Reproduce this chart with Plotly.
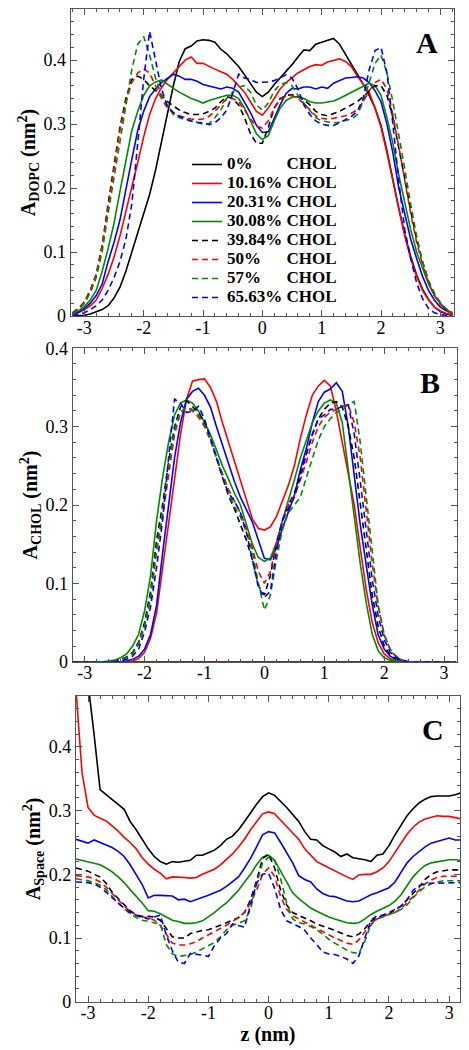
import plotly.graph_objects as go

# ---------------- data ----------------
z = [-3.2, -3.1, -3.0, -2.9, -2.8, -2.7, -2.6, -2.5, -2.4, -2.3, -2.2, -2.1, -2.0, -1.9, -1.8, -1.7,
     -1.6, -1.5, -1.4, -1.3, -1.2, -1.1, -1.0, -0.9, -0.8, -0.7, -0.6, -0.5, -0.4, -0.3, -0.2, -0.1,
     0.0, 0.1, 0.2, 0.3, 0.4, 0.5, 0.6, 0.7, 0.8, 0.9, 1.0, 1.1, 1.2, 1.3, 1.4, 1.5, 1.6,
     1.7, 1.8, 1.9, 2.0, 2.1, 2.2, 2.3, 2.4, 2.5, 2.6, 2.7, 2.8, 2.9, 3.0, 3.1, 3.2]

chol_pct = ["0", "10.16", "20.31", "30.08", "39.84", "50", "57", "65.63"]

x_tick_vals = [-3, -2, -1, 0, 1, 2, 3]
x_tick_text = ["-3", "-2", "-1", "0", "1", "2", "3"]

# Panel A: area per DOPC
dopc_0 = [0, 0, 0.001, 0.003, 0.006, 0.01, 0.016, 0.028, 0.045, 0.07, 0.1, 0.13, 0.162, 0.19, 0.228, 0.272,
          0.318, 0.36, 0.398, 0.418, 0.422, 0.43, 0.432, 0.431, 0.428, 0.417, 0.41, 0.40, 0.39, 0.377, 0.363, 0.35,
          0.343, 0.35, 0.362, 0.372, 0.383, 0.393, 0.405, 0.416, 0.415, 0.425, 0.428, 0.431, 0.434, 0.425, 0.41, 0.395,
          0.378, 0.362, 0.345, 0.325, 0.298, 0.258, 0.212, 0.168, 0.128, 0.093, 0.064, 0.042, 0.026, 0.014, 0.007,
          0.003, 0.001]
dopc_10 = [0.002, 0.005, 0.01, 0.016, 0.025, 0.043, 0.065, 0.092, 0.125, 0.162, 0.2, 0.24, 0.28, 0.315, 0.34, 0.357,
           0.37, 0.38, 0.39, 0.4, 0.405, 0.395, 0.395, 0.39, 0.386, 0.382, 0.378, 0.37, 0.36, 0.35, 0.335, 0.32,
           0.314, 0.325, 0.34, 0.355, 0.365, 0.372, 0.38, 0.385, 0.39, 0.393, 0.392, 0.397, 0.4, 0.402, 0.398, 0.39,
           0.375, 0.362, 0.35, 0.325, 0.295, 0.255, 0.21, 0.165, 0.125, 0.09, 0.062, 0.04, 0.025, 0.014, 0.008,
           0.004, 0.002]
dopc_20 = [0.003, 0.006, 0.012, 0.02, 0.032, 0.05, 0.085, 0.115, 0.15, 0.2, 0.245, 0.29, 0.32, 0.343, 0.355, 0.365,
           0.372, 0.378, 0.375, 0.37, 0.37, 0.367, 0.362, 0.36, 0.357, 0.355, 0.358, 0.356, 0.35, 0.335, 0.318, 0.298,
           0.287, 0.288, 0.31, 0.33, 0.348, 0.356, 0.355, 0.358, 0.358, 0.355, 0.358, 0.356, 0.364, 0.368, 0.372, 0.373,
           0.374, 0.372, 0.365, 0.352, 0.335, 0.3, 0.255, 0.2, 0.16, 0.12, 0.09, 0.062, 0.04, 0.025, 0.014,
           0.008, 0.004]
dopc_30 = [0.004, 0.008, 0.015, 0.025, 0.04, 0.07, 0.105, 0.145, 0.195, 0.245, 0.29, 0.32, 0.345, 0.36, 0.366, 0.369,
           0.362, 0.356, 0.35, 0.345, 0.34, 0.337, 0.333, 0.337, 0.34, 0.342, 0.345, 0.345, 0.34, 0.325, 0.305, 0.285,
           0.276, 0.282, 0.305, 0.325, 0.337, 0.342, 0.343, 0.34, 0.335, 0.333, 0.333, 0.335, 0.336, 0.34, 0.345, 0.35,
           0.355, 0.36, 0.364, 0.36, 0.345, 0.31, 0.27, 0.22, 0.175, 0.135, 0.1, 0.075, 0.05, 0.032, 0.02,
           0.01, 0.005]
dopc_40 = [0.005, 0.012, 0.022, 0.04, 0.065, 0.11, 0.175, 0.235, 0.295, 0.34, 0.37, 0.375, 0.37, 0.36, 0.352, 0.345,
           0.335, 0.328, 0.322, 0.318, 0.315, 0.315, 0.316, 0.32, 0.325, 0.335, 0.343, 0.34, 0.33, 0.31, 0.285, 0.27,
           0.27, 0.295, 0.325, 0.34, 0.345, 0.346, 0.343, 0.338, 0.33, 0.32, 0.315, 0.313, 0.316, 0.32, 0.325, 0.33,
           0.335, 0.343, 0.352, 0.36, 0.36, 0.345, 0.31, 0.265, 0.215, 0.165, 0.12, 0.085, 0.055, 0.035, 0.02,
           0.01, 0.005]
dopc_50 = [0.005, 0.011, 0.022, 0.04, 0.065, 0.11, 0.17, 0.23, 0.29, 0.335, 0.365, 0.38, 0.386, 0.38, 0.36, 0.34,
           0.325, 0.318, 0.313, 0.31, 0.308, 0.307, 0.308, 0.312, 0.32, 0.33, 0.34, 0.34, 0.335, 0.322, 0.308, 0.297,
           0.294, 0.305, 0.325, 0.338, 0.344, 0.345, 0.34, 0.332, 0.322, 0.313, 0.309, 0.308, 0.309, 0.311, 0.313, 0.317,
           0.322, 0.335, 0.352, 0.365, 0.37, 0.355, 0.315, 0.265, 0.21, 0.16, 0.115, 0.08, 0.052, 0.032, 0.018,
           0.009, 0.004]
dopc_57 = [0.004, 0.01, 0.02, 0.036, 0.06, 0.1, 0.16, 0.215, 0.275, 0.33, 0.385, 0.425, 0.437, 0.408, 0.372, 0.345,
           0.328, 0.315, 0.31, 0.307, 0.305, 0.302, 0.3, 0.301, 0.31, 0.322, 0.34, 0.35, 0.358, 0.36, 0.35, 0.33,
           0.322, 0.333, 0.352, 0.362, 0.365, 0.36, 0.345, 0.333, 0.322, 0.31, 0.305, 0.303, 0.302, 0.303, 0.305, 0.308,
           0.315, 0.335, 0.365, 0.395, 0.408, 0.38, 0.335, 0.285, 0.23, 0.175, 0.125, 0.085, 0.055, 0.035, 0.02,
           0.011, 0.005]
dopc_66 = [0.0, 0.002, 0.005, 0.01, 0.016, 0.025, 0.04, 0.06, 0.085, 0.12, 0.175, 0.27, 0.37, 0.445, 0.4, 0.355,
           0.328, 0.318, 0.312, 0.308, 0.305, 0.303, 0.302, 0.299, 0.302, 0.31, 0.322, 0.348, 0.378, 0.372, 0.37, 0.365,
           0.365, 0.366, 0.368, 0.372, 0.377, 0.372, 0.355, 0.33, 0.315, 0.305, 0.3, 0.298, 0.298, 0.302, 0.307, 0.312,
           0.32, 0.34, 0.385, 0.415, 0.42, 0.38, 0.3, 0.21, 0.135, 0.09, 0.052, 0.027, 0.012, 0.005, 0.002,
           0.001, 0.0]

# Panel B: area per cholesterol
chol_0 = [0.0] * 65
chol_10 = [0, 0, 0, 0, 0, 0, 0, 0, 0, 0, 0.001, 0.004, 0.012, 0.03, 0.062, 0.12,
           0.18, 0.235, 0.29, 0.335, 0.358, 0.36, 0.361, 0.35, 0.332, 0.305, 0.28, 0.255, 0.23, 0.205, 0.182, 0.17,
           0.168, 0.172, 0.185, 0.205, 0.225, 0.25, 0.285, 0.315, 0.34, 0.352, 0.359, 0.352, 0.32, 0.28, 0.24, 0.2,
           0.145, 0.092, 0.05, 0.024, 0.01, 0.004, 0.001, 0, 0, 0, 0, 0, 0, 0, 0,
           0, 0]
chol_20 = [0, 0, 0, 0, 0, 0, 0, 0, 0, 0.001, 0.003, 0.007, 0.016, 0.035, 0.072, 0.138,
           0.2, 0.26, 0.305, 0.335, 0.345, 0.349, 0.34, 0.325, 0.3, 0.276, 0.252, 0.23, 0.21, 0.195, 0.178, 0.155,
           0.132, 0.13, 0.145, 0.17, 0.19, 0.212, 0.245, 0.272, 0.305, 0.332, 0.344, 0.348, 0.356, 0.345, 0.3, 0.238,
           0.175, 0.123, 0.073, 0.034, 0.016, 0.007, 0.003, 0.001, 0, 0, 0, 0, 0, 0, 0,
           0, 0]
chol_30 = [0, 0, 0, 0, 0, 0, 0.001, 0.002, 0.005, 0.01, 0.02, 0.035, 0.065, 0.11, 0.18, 0.235,
           0.28, 0.315, 0.33, 0.334, 0.33, 0.32, 0.305, 0.29, 0.27, 0.25, 0.233, 0.215, 0.2, 0.175, 0.15, 0.133,
           0.128, 0.132, 0.152, 0.18, 0.205, 0.232, 0.26, 0.283, 0.305, 0.32, 0.33, 0.334, 0.33, 0.305, 0.245, 0.185,
           0.125, 0.075, 0.035, 0.014, 0.005, 0.002, 0.001, 0, 0, 0, 0, 0, 0, 0, 0,
           0, 0]
chol_40 = [0, 0, 0, 0, 0, 0, 0, 0.001, 0.003, 0.006, 0.012, 0.025, 0.05, 0.09, 0.155, 0.2,
           0.255, 0.3, 0.325, 0.333, 0.325, 0.318, 0.305, 0.285, 0.26, 0.235, 0.212, 0.195, 0.175, 0.155, 0.13, 0.097,
           0.085, 0.11, 0.15, 0.18, 0.2, 0.215, 0.24, 0.265, 0.29, 0.31, 0.322, 0.33, 0.332, 0.325, 0.3, 0.26,
           0.2, 0.14, 0.085, 0.045, 0.02, 0.008, 0.003, 0.001, 0, 0, 0, 0, 0, 0, 0,
           0, 0]
chol_50 = [0, 0, 0, 0, 0, 0, 0, 0.001, 0.002, 0.005, 0.01, 0.022, 0.045, 0.08, 0.14, 0.185,
           0.24, 0.29, 0.318, 0.325, 0.32, 0.312, 0.3, 0.282, 0.26, 0.24, 0.22, 0.205, 0.19, 0.17, 0.145, 0.115,
           0.1, 0.115, 0.15, 0.18, 0.2, 0.212, 0.232, 0.255, 0.28, 0.3, 0.312, 0.318, 0.322, 0.326, 0.328, 0.305,
           0.26, 0.195, 0.125, 0.07, 0.034, 0.015, 0.006, 0.002, 0, 0, 0, 0, 0, 0, 0,
           0, 0]
chol_57 = [0, 0, 0, 0, 0, 0, 0, 0.001, 0.002, 0.005, 0.011, 0.023, 0.046, 0.082, 0.145, 0.19,
           0.25, 0.295, 0.318, 0.325, 0.322, 0.315, 0.302, 0.285, 0.262, 0.24, 0.215, 0.198, 0.185, 0.165, 0.14, 0.1,
           0.066, 0.085, 0.13, 0.168, 0.19, 0.2, 0.21, 0.235, 0.26, 0.283, 0.3, 0.31, 0.318, 0.322, 0.328, 0.332,
           0.28, 0.21, 0.135, 0.072, 0.035, 0.016, 0.007, 0.002, 0, 0, 0, 0, 0, 0, 0,
           0, 0]
chol_66 = [0, 0, 0, 0, 0, 0, 0, 0, 0.001, 0.003, 0.007, 0.016, 0.038, 0.07, 0.12, 0.18,
           0.26, 0.335, 0.33, 0.318, 0.32, 0.326, 0.31, 0.285, 0.258, 0.235, 0.215, 0.205, 0.19, 0.165, 0.13, 0.095,
           0.082, 0.09, 0.14, 0.18, 0.195, 0.21, 0.235, 0.265, 0.29, 0.31, 0.315, 0.322, 0.322, 0.326, 0.328, 0.29,
           0.23, 0.165, 0.105, 0.058, 0.028, 0.012, 0.005, 0.002, 0, 0, 0, 0, 0, 0, 0,
           0, 0]

# Panel C: free space area
space_0 = [0.7, 0.6, 0.5, 0.42, 0.333, 0.325, 0.318, 0.31, 0.302, 0.283, 0.27, 0.255, 0.24, 0.228, 0.22, 0.216,
           0.22, 0.219, 0.22, 0.222, 0.23, 0.23, 0.234, 0.238, 0.245, 0.255, 0.26, 0.27, 0.283, 0.297, 0.31, 0.322,
           0.328, 0.324, 0.315, 0.305, 0.294, 0.283, 0.267, 0.255, 0.254, 0.245, 0.24, 0.235, 0.228, 0.232, 0.226, 0.225,
           0.223, 0.22, 0.23, 0.232, 0.245, 0.262, 0.278, 0.292, 0.303, 0.312, 0.318, 0.322, 0.323, 0.323, 0.323,
           0.325, 0.328]
space_10 = [0.49, 0.36, 0.305, 0.293, 0.288, 0.284, 0.276, 0.268, 0.258, 0.25, 0.24, 0.226, 0.216, 0.208, 0.202, 0.193,
            0.196, 0.196, 0.195, 0.194, 0.195, 0.2, 0.204, 0.208, 0.215, 0.223, 0.232, 0.243, 0.255, 0.27, 0.283, 0.295,
            0.298, 0.295, 0.285, 0.275, 0.265, 0.255, 0.24, 0.23, 0.22, 0.215, 0.21, 0.205, 0.2, 0.196, 0.192, 0.199,
            0.2, 0.2, 0.204, 0.21, 0.22, 0.235, 0.25, 0.263, 0.274, 0.282, 0.287, 0.29, 0.292, 0.291, 0.291,
            0.289, 0.287]
space_20 = [0.255, 0.252, 0.249, 0.254, 0.25, 0.247, 0.242, 0.236, 0.228, 0.215, 0.2, 0.184, 0.163, 0.167, 0.167, 0.166,
            0.166, 0.16, 0.161, 0.157, 0.16, 0.163, 0.167, 0.171, 0.175, 0.181, 0.188, 0.196, 0.21, 0.225, 0.243, 0.262,
            0.267, 0.265, 0.25, 0.235, 0.218, 0.198, 0.192, 0.188, 0.177, 0.17, 0.166, 0.165, 0.162, 0.158, 0.157, 0.158,
            0.163, 0.168, 0.171, 0.175, 0.179, 0.188, 0.203, 0.218, 0.228, 0.236, 0.243, 0.249, 0.252, 0.255, 0.257,
            0.254, 0.254]
space_30 = [0.224, 0.222, 0.22, 0.218, 0.215, 0.21, 0.204, 0.196, 0.187, 0.176, 0.166, 0.155, 0.143, 0.142, 0.138, 0.133,
            0.128, 0.126, 0.123, 0.123, 0.124, 0.127, 0.133, 0.14, 0.148, 0.155, 0.165, 0.175, 0.188, 0.2, 0.215, 0.227,
            0.23, 0.222, 0.205, 0.187, 0.171, 0.162, 0.154, 0.147, 0.142, 0.137, 0.133, 0.13, 0.127, 0.124, 0.123, 0.124,
            0.13, 0.137, 0.142, 0.146, 0.151, 0.158, 0.168, 0.182, 0.196, 0.206, 0.214, 0.218, 0.22, 0.222, 0.223,
            0.223, 0.222]
space_40 = [0.21, 0.208, 0.205, 0.2, 0.196, 0.186, 0.172, 0.162, 0.153, 0.143, 0.136, 0.134, 0.134, 0.133, 0.128, 0.115,
            0.102, 0.1, 0.1, 0.107, 0.11, 0.112, 0.113, 0.116, 0.12, 0.124, 0.128, 0.132, 0.14, 0.16, 0.19, 0.225,
            0.232, 0.21, 0.175, 0.152, 0.14, 0.136, 0.131, 0.127, 0.122, 0.119, 0.115, 0.112, 0.108, 0.104, 0.102, 0.106,
            0.115, 0.126, 0.132, 0.135, 0.138, 0.144, 0.15, 0.16, 0.17, 0.18, 0.192, 0.2, 0.204, 0.206, 0.207,
            0.207, 0.207]
space_50 = [0.198, 0.197, 0.196, 0.193, 0.188, 0.18, 0.17, 0.16, 0.15, 0.142, 0.136, 0.133, 0.132, 0.128, 0.12, 0.106,
            0.092, 0.089, 0.089, 0.091, 0.094, 0.1, 0.105, 0.11, 0.114, 0.12, 0.126, 0.132, 0.14, 0.155, 0.175, 0.2,
            0.21, 0.197, 0.165, 0.145, 0.135, 0.13, 0.125, 0.12, 0.115, 0.109, 0.104, 0.1, 0.096, 0.092, 0.09, 0.097,
            0.11, 0.12, 0.13, 0.134, 0.137, 0.14, 0.146, 0.155, 0.165, 0.175, 0.185, 0.191, 0.195, 0.197, 0.197,
            0.197, 0.197]
space_57 = [0.193, 0.192, 0.19, 0.187, 0.183, 0.176, 0.165, 0.155, 0.146, 0.138, 0.132, 0.128, 0.126, 0.124, 0.122, 0.09,
            0.075, 0.071, 0.072, 0.074, 0.078, 0.083, 0.088, 0.093, 0.102, 0.113, 0.12, 0.124, 0.127, 0.145, 0.185, 0.218,
            0.227, 0.222, 0.193, 0.155, 0.13, 0.124, 0.122, 0.118, 0.113, 0.106, 0.098, 0.092, 0.086, 0.081, 0.077, 0.076,
            0.095, 0.122, 0.13, 0.133, 0.136, 0.14, 0.145, 0.152, 0.163, 0.173, 0.18, 0.185, 0.188, 0.19, 0.19,
            0.19, 0.19]
space_66 = [0.188, 0.188, 0.187, 0.185, 0.18, 0.172, 0.163, 0.155, 0.147, 0.14, 0.135, 0.132, 0.13, 0.133, 0.136, 0.105,
            0.08, 0.062, 0.06, 0.076, 0.075, 0.073, 0.071, 0.088, 0.1, 0.107, 0.122, 0.12, 0.117, 0.152, 0.186, 0.2,
            0.202, 0.178, 0.145, 0.127, 0.123, 0.118, 0.112, 0.1, 0.09, 0.078, 0.075, 0.074, 0.071, 0.067, 0.06, 0.072,
            0.1, 0.128, 0.135, 0.136, 0.14, 0.145, 0.15, 0.16, 0.175, 0.182, 0.185, 0.186, 0.186, 0.186, 0.186,
            0.187, 0.187]

panel_A = [dopc_0, dopc_10, dopc_20, dopc_30, dopc_40, dopc_50, dopc_57, dopc_66]
panel_B = [chol_0, chol_10, chol_20, chol_30, chol_40, chol_50, chol_57, chol_66]
panel_C = [space_0, space_10, space_20, space_30, space_40, space_50, space_57, space_66]
for s in panel_A + panel_B + panel_C:
    assert len(s) == len(z), len(s)

# ---------------- style ----------------
FONT = "Liberation Serif"
COLORS = ["#000000", "#ff0000", "#0000ff", "#008b00", "#000000", "#ff0000", "#008b00", "#0000ff"]
DASHES = ["solid"] * 4 + ["6px,4px"] * 4
FRAME = "#555555"
NBSP = "\u00a0"


def legend_name(p):
    # pad short percentages with spaces so the "CHOL" column lines up (Times bold metrics)
    width_em = 0.5 * sum(c.isdigit() for c in p) + 0.25 * p.count(".") + 1.0
    pad = int(round((3.25 - width_em) / 0.25))
    return ('<span style="font-size:17px"><b>' + p + "%" + NBSP * pad + " CHOL</b></span>")


fig = go.Figure()
panels = [(panel_A, "x", "y"), (panel_B, "x2", "y2"), (panel_C, "x3", "y3")]
for pi, (series, xa, ya) in enumerate(panels):
    for i, ser in enumerate(series):
        fig.add_trace(go.Scatter(
            x=z, y=ser, mode="lines", xaxis=xa, yaxis=ya,
            name=legend_name(chol_pct[i]), showlegend=(pi == 0),
            line=dict(color=COLORS[i], width=1.6, dash=DASHES[i]),
            hoverinfo="skip"))

W, H = 469, 1050


def xdom(l, r):
    return [l / W, r / W]


def ydom(top, bottom):
    return [1 - bottom / H, 1 - top / H]


common = dict(showgrid=False, zeroline=False, showline=True, linecolor=FRAME, linewidth=1.2,
              mirror="ticks", ticks="inside", ticklen=6, tickwidth=1.2, tickcolor=FRAME,
              automargin=False,
              tickfont=dict(family=FONT, size=18, color="black"))

xcommon = dict(common, tickmode="array", tickvals=x_tick_vals, ticktext=x_tick_text,
               ticklabelstandoff=-5,
               minor=dict(ticks="inside", ticklen=3, tickwidth=1, tickcolor=FRAME,
                          tickmode="linear", tick0=0, dtick=0.2))
ycommon = dict(common, tickmode="linear", tick0=0, dtick=0.1,
               minor=dict(ticks="inside", ticklen=3, tickwidth=1, tickcolor=FRAME,
                          tickmode="linear", tick0=0, dtick=0.02))

title_font = dict(family=FONT, size=20, color="black")

fig.update_layout(
    template="none",
    width=W, height=H,
    margin=dict(l=0, r=0, t=0, b=0, autoexpand=False),
    paper_bgcolor="white", plot_bgcolor="white",
    font=dict(family=FONT, color="black"),
    xaxis=dict(xcommon, domain=xdom(70.7, 454), range=[-3.23, 3.23], anchor="y"),
    yaxis=dict(ycommon, domain=ydom(9, 316), range=[0, 0.48], anchor="x",
               title=dict(text="<b>A<sub>DOPC</sub> (nm<sup>2</sup>)</b>", font=title_font, standoff=2)),
    xaxis2=dict(xcommon, domain=xdom(72.7, 456.7), range=[-3.2, 3.21], anchor="y2"),
    yaxis2=dict(ycommon, domain=ydom(348.3, 661.7), range=[0, 0.4], anchor="x2",
                title=dict(text="<b>A<sub>CHOL</sub> (nm<sup>2</sup>)</b>", font=title_font, standoff=2)),
    xaxis3=dict(xcommon, domain=xdom(76, 460), range=[-3.2, 3.18], anchor="y3",
                title=dict(text="<b>z (nm)</b>", font=title_font, standoff=0)),
    yaxis3=dict(ycommon, domain=ydom(696, 1001.7), range=[0, 0.48], anchor="x3",
                title=dict(text="<b>A<sub>Space</sub> (nm<sup>2</sup>)</b>", font=title_font, standoff=2)),
    legend=dict(x=187 / W, y=1 - 150 / H, xanchor="left", yanchor="top",
                bgcolor="rgba(0,0,0,0)", borderwidth=0, itemwidth=30, tracegroupgap=0,
                font=dict(family=FONT, size=12, color="black")),
    showlegend=True,
)

for label, xa, ya in [("A", "x", "y"), ("B", "x2", "y2"), ("C", "x3", "y3")]:
    fig.add_annotation(text="<b>" + label + "</b>", xref=xa + " domain", yref=ya + " domain",
                       x=0.93, y=0.89, xanchor="center", yanchor="middle", showarrow=False,
                       font=dict(family=FONT, size=30, color="black"))

# remove the browser's default 8px page margin so the figure sits at the window origin
fig.write_html("out.html", config={"displayModeBar": False},
               post_script="document.body.style.margin='0px';")
